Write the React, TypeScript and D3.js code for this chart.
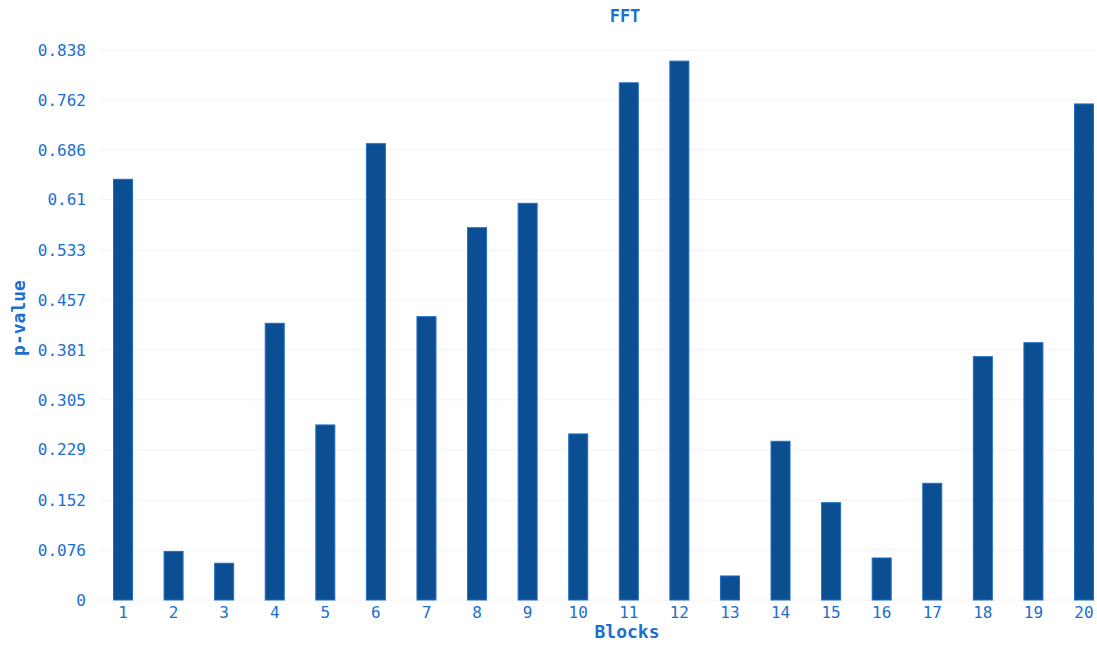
import React from "react";
import * as d3 from "d3";

const blocks = ["1","2","3","4","5","6","7","8","9","10","11","12","13","14","15","16","17","18","19","20"];
const pValues = [0.641, 0.074, 0.056, 0.4216, 0.2667, 0.6953, 0.4317, 0.5673, 0.6044, 0.253, 0.788, 0.821, 0.0366, 0.2418, 0.1483, 0.064, 0.1778, 0.3708, 0.392, 0.7558];
const yTicks = [0, 0.076, 0.152, 0.229, 0.305, 0.381, 0.457, 0.533, 0.61, 0.686, 0.762, 0.838];
const yTickLabels = ["0", "0.076", "0.152", "0.229", "0.305", "0.381", "0.457", "0.533", "0.61", "0.686", "0.762", "0.838"];

const W = 1097, H = 646;
const FONT = "'DejaVu Sans Mono', 'Liberation Mono', monospace";
const TEXT = "#1a6fd0";
const BAR = "#0c4e92";
const BAR_EDGE = "#1f6dc8";

export default function App() {
  const y = d3.scaleLinear().domain([0, 0.838]).range([600, 50]);
  const x = d3.scalePoint<string>().domain(blocks).range([123, 1084]);
  const bw = 19;
  return (
    <svg width={W} height={H} style={{ position: "absolute", left: 0, top: 0, background: "#fff" }}>
      {yTicks.map((t, i) => (
        <line key={"g" + i} x1={100} x2={1095} y1={y(t)} y2={y(t)} stroke="#f2f2f2" strokeWidth={1} />
      ))}
      {pValues.map((v, i) => (
        <rect key={i} x={x(blocks[i])! - bw / 2} y={y(v)} width={bw} height={y(0) - y(v)}
          fill={BAR} stroke={BAR_EDGE} strokeWidth={1} />
      ))}
      {yTicks.map((t, i) => (
        <text key={"y" + i} x={86} y={y(t)} dy="0.36em" textAnchor="end" fontFamily={FONT} fontSize={16} fill={TEXT}>
          {yTickLabels[i]}
        </text>
      ))}
      {blocks.map((b, i) => (
        <text key={"x" + i} x={x(b)!} y={618} textAnchor="middle" fontFamily={FONT} fontSize={16} fill={TEXT}>
          {b}
        </text>
      ))}
      <text x={625} y={22} textAnchor="middle" fontFamily={FONT} fontSize={17} fontWeight="bold" fill={TEXT}>FFT</text>
      <text x={627} y={638} textAnchor="middle" fontFamily={FONT} fontSize={18} fontWeight="bold" fill={TEXT}>Blocks</text>
      <text transform="translate(25,318) rotate(-90)" textAnchor="middle" fontFamily={FONT} fontSize={18} fontWeight="bold" fill={TEXT}>p-value</text>
    </svg>
  );
}
